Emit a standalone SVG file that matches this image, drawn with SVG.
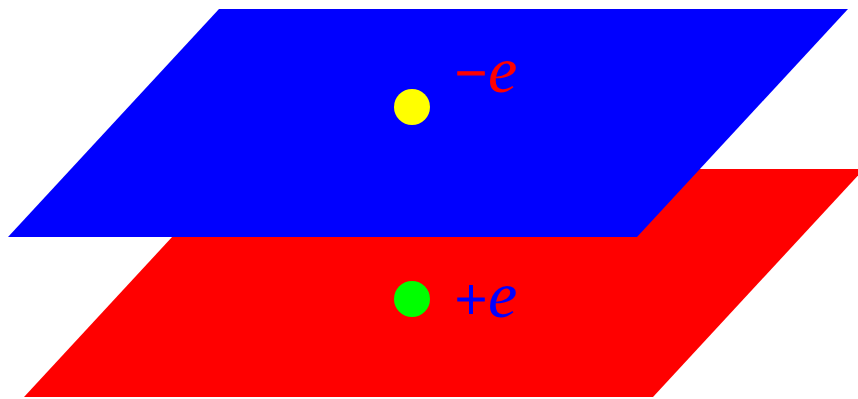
<svg xmlns="http://www.w3.org/2000/svg" width="858" height="399" viewBox="0 0 858 399">
<style>
.lbl{font-family:"Liberation Serif","DejaVu Serif",serif;font-size:60px}
.sg{stroke-width:1.2}
.it{font-style:italic;font-size:66px}
</style>
<rect width="858" height="399" fill="#fff"/>
<g id="lower-plane">
<polygon points="235,169 864,169 653,397 24,397" fill="#ff0000"/>
</g>
<g id="upper-plane">
<polygon points="219,9 848,9 637,237 8,237" fill="#0000ff"/>
</g>
<g id="negative-charge">
<circle cx="412" cy="107" r="18" fill="#ffff00"/>
<text class="lbl" fill="#ff0000"><tspan class="sg" stroke="#ff0000" x="455" y="93" textLength="32" lengthAdjust="spacingAndGlyphs">−</tspan><tspan class="it" x="488" y="92">e</tspan></text>
</g>
<g id="positive-charge">
<circle cx="412" cy="299" r="18" fill="#00ff00"/>
<text class="lbl" fill="#0000ff"><tspan class="sg" stroke="#0000ff" x="455" y="319" textLength="32" lengthAdjust="spacingAndGlyphs">+</tspan><tspan class="it" x="488" y="317">e</tspan></text>
</g>
<g id="connectors"/>
</svg>
